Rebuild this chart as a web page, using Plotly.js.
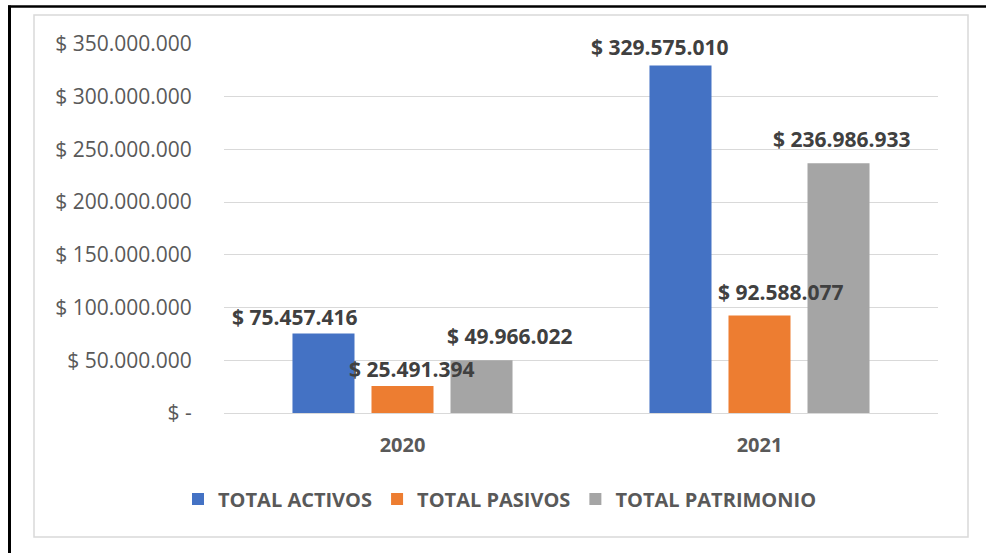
<!DOCTYPE html>
<html>
<head>
<meta charset="utf-8">
<script src="https://cdn.plot.ly/plotly-3.0.1.min.js"></script>
<style>
  html, body { margin: 0; padding: 0; background: #ffffff; }
  #chart { width: 986px; height: 553px; }
</style>
</head>
<body>
<div id="chart"></div>
<script>
// ---- Data ----
const categories = ["2020", "2021"];
const seriesNames = ["TOTAL ACTIVOS", "TOTAL PASIVOS", "TOTAL PATRIMONIO"];
const activos = [75457416, 329575010];
const pasivos = [25491394, 92588077];
const patrimonio = [49966022, 236986933];
const yTickValues = [0, 50000000, 100000000, 150000000, 200000000, 250000000, 300000000, 350000000];

// ---- Styles / layout constants ----
const colors = ["#4472C4", "#ED7D31", "#A5A5A5"];
const W = 986, H = 553;
const M = { l: 224, r: 48, t: 44, b: 140 };
const PW = W - M.l - M.r, PH = H - M.t - M.b;
const px = x => (x - M.l) / PW;
const py = y => (H - M.b - y) / PH;

// label offsets (pixels) per series per category: [dx, dy]
const labelOffsets = [
  [[-108, 16], [-100, 19]],
  [[9.5, 17], [21.5, 23]],
  [[107.5, 24], [82.5, 24.5]]
];

function fmt(v) {
  if (v === 0) return "$ -";
  return "$ " + Math.round(v).toString().replace(/\B(?=(\d{3})+(?!\d))/g, ".");
}

const allSeries = [activos, pasivos, patrimonio];
const traces = allSeries.map((vals, i) => ({
  type: "bar",
  name: seriesNames[i],
  x: categories,
  y: vals,
  marker: { color: colors[i] }
}));

const annotations = [];
allSeries.forEach((vals, i) => {
  vals.forEach((v, j) => {
    annotations.push({
      x: j, y: v, xref: "x", yref: "y",
      text: fmt(v), showarrow: false,
      xanchor: "center", yanchor: "middle",
      xshift: labelOffsets[i][j][0], yshift: labelOffsets[i][j][1],
      font: { family: "Open Sans", size: 21, color: "#404040", weight: 700 }
    });
  });
});

const shapes = [
  { type: "rect", xref: "paper", yref: "paper",
    x0: px(34), x1: px(968), y0: py(537), y1: py(15),
    line: { color: "#D9D9D9", width: 1.5 }, fillcolor: "rgba(0,0,0,0)", layer: "below" },
  { type: "line", xref: "paper", yref: "paper",
    x0: px(8), x1: px(986), y0: py(6.5), y1: py(6.5),
    line: { color: "#000000", width: 2.5 } },
  { type: "line", xref: "paper", yref: "paper",
    x0: px(9.5), x1: px(9.5), y0: py(5.5), y1: py(553),
    line: { color: "#000000", width: 3 } }
];

const layout = {
  width: W, height: H,
  margin: M,
  paper_bgcolor: "#ffffff",
  plot_bgcolor: "#ffffff",
  barmode: "group",
  bargap: 0.336,
  bargroupgap: 0.215,
  showlegend: true,
  legend: {
    orientation: "h",
    x: px(500), xanchor: "center",
    y: py(499), yanchor: "middle",
    font: { family: "Open Sans", size: 20, color: "#595959", weight: 700 },
    traceorder: "normal"
  },
  xaxis: {
    type: "category",
    range: [-0.5, 1.5],
    showgrid: false,
    showline: false,
    zeroline: false,
    ticks: "outside",
    ticklen: 14,
    tickcolor: "rgba(0,0,0,0)",
    tickfont: { family: "Open Sans", size: 20, color: "#595959", weight: 700 }
  },
  yaxis: {
    range: [0, 350000000],
    tickvals: yTickValues,
    ticktext: yTickValues.map(fmt),
    showgrid: true,
    gridcolor: "#D9D9D9",
    gridwidth: 1,
    zeroline: true,
    zerolinecolor: "#D9D9D9",
    zerolinewidth: 1,
    showline: false,
    ticks: "outside",
    ticklen: 27,
    tickcolor: "rgba(0,0,0,0)",
    tickfont: { family: "Open Sans", size: 21, color: "#595959" }
  },
  annotations: annotations,
  shapes: shapes,
  font: { family: "Open Sans" }
};

Plotly.newPlot("chart", traces, layout, { displayModeBar: false, staticPlot: true });
</script>
</body>
</html>
